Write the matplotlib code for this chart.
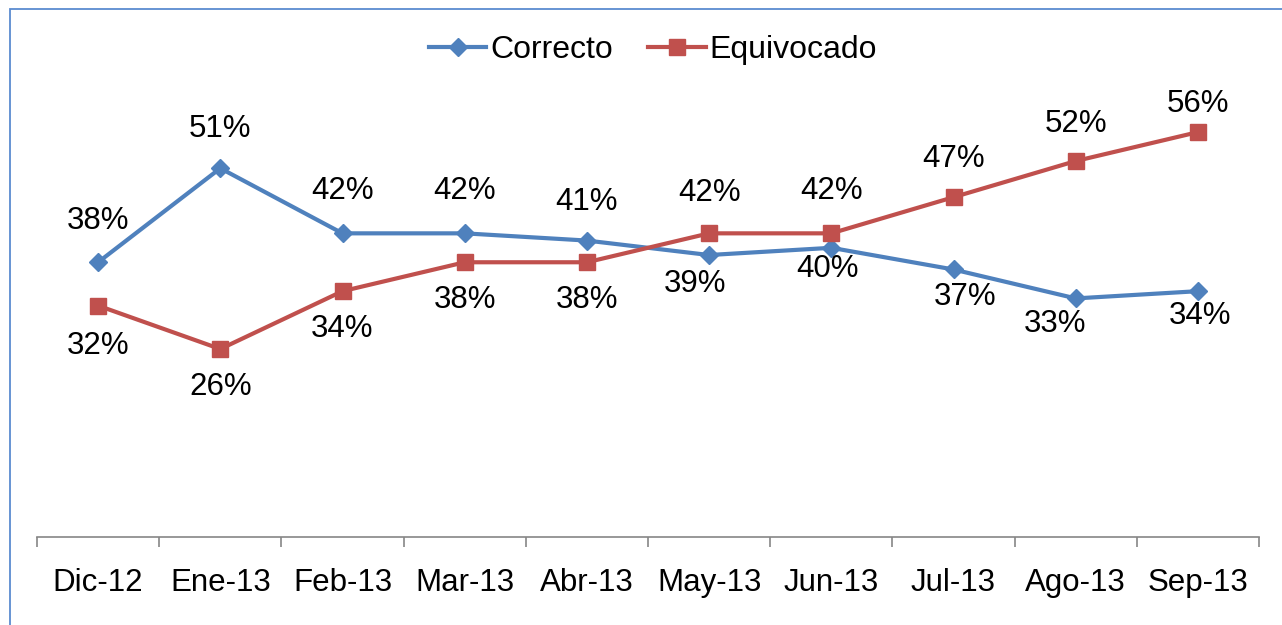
import matplotlib
matplotlib.use("Agg")
import matplotlib.pyplot as plt
from matplotlib.patches import Rectangle

categories = ["Dic-12", "Ene-13", "Feb-13", "Mar-13", "Abr-13",
              "May-13", "Jun-13", "Jul-13", "Ago-13", "Sep-13"]
correcto = [38, 51, 42, 42, 41, 39, 40, 37, 33, 34]
equivocado = [32, 26, 34, 38, 38, 42, 42, 47, 52, 56]

# label offsets in pixels (dx, dy upward positive)
corr_off = [(0, 41), (0, 39), (0, 42), (0, 42), (0, 39),
            (-14, -29), (-4, -21), (12, -28), (-21, -26), (2, -25)]
equi_off = [(0, -40), (0, -38), (0, -38), (0, -38), (0, -38),
            (0, 40), (0, 42), (0, 38), (0, 37), (0, 28)]

BLUE = "#4F81BD"
RED = "#C0504D"
FS = 22.5

plt.rcParams['font.family'] = ['Liberation Sans', 'DejaVu Sans']

W, H = 1282, 625
fig = plt.figure(figsize=(W / 100, H / 100), dpi=100)
left, right, bottom = 37 / W, 1259 / W, 1 - 537 / H
ymax = 60
top_px = 537 - ymax * 7.23
ax = fig.add_axes([left, bottom, right - left, (537 - top_px) / H])

x = list(range(len(categories)))
ax.plot(x, correcto, color=BLUE, lw=3.0, marker="D", markersize=9.5,
        label="Correcto")
ax.plot(x, equivocado, color=RED, lw=3.0, marker="s", markersize=12,
        label="Equivocado")

for i, v in enumerate(correcto):
    dx, dy = corr_off[i]
    ax.annotate(f"{v}%", (i, v), xytext=(dx, dy), textcoords="offset pixels",
                ha="center", va="center", fontsize=FS, color="black")
for i, v in enumerate(equivocado):
    dx, dy = equi_off[i]
    ax.annotate(f"{v}%", (i, v), xytext=(dx, dy), textcoords="offset pixels",
                ha="center", va="center", fontsize=FS, color="black")

ax.set_xlim(-0.5, len(categories) - 0.5)
ax.set_ylim(0, ymax)
for s in ["top", "right", "left"]:
    ax.spines[s].set_visible(False)
ax.spines["bottom"].set_color("#868686")
ax.spines["bottom"].set_linewidth(1.2)
ax.set_yticks([])
ax.set_xticks(x)
ax.set_xticklabels(categories, fontsize=FS)
ax.set_xticks([i - 0.5 for i in range(len(categories) + 1)], minor=True)
ax.tick_params(axis="x", which="major", length=0, pad=22)
ax.tick_params(axis="x", which="minor", length=7.5, width=1.2, color="#868686", direction="out")

leg = fig.legend(loc="center", bbox_to_anchor=(0.5 + 12 / W, 1 - 50 / H), ncol=2,
                 frameon=False, fontsize=23, handlelength=1.8,
                 handletextpad=0.12, columnspacing=1.1)

fig.patches.append(Rectangle((9.5 / W, -0.1), 2, 1 - 8.5 / H + 0.1,
                             transform=fig.transFigure, fill=False,
                             edgecolor="#5B8BD0", lw=1.3))

fig.savefig("out.png", dpi=100)
